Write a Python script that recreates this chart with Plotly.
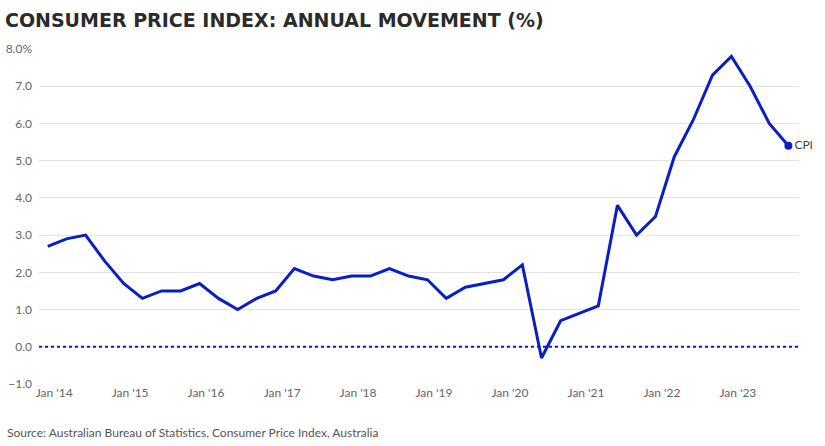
import plotly.graph_objects as go

dates = ["2013-12-01",
         "2014-03-01", "2014-06-01", "2014-09-01", "2014-12-01",
         "2015-03-01", "2015-06-01", "2015-09-01", "2015-12-01",
         "2016-03-01", "2016-06-01", "2016-09-01", "2016-12-01",
         "2017-03-01", "2017-06-01", "2017-09-01", "2017-12-01",
         "2018-03-01", "2018-06-01", "2018-09-01", "2018-12-01",
         "2019-03-01", "2019-06-01", "2019-09-01", "2019-12-01",
         "2020-03-01", "2020-06-01", "2020-09-01", "2020-12-01",
         "2021-03-01", "2021-06-01", "2021-09-01", "2021-12-01",
         "2022-03-01", "2022-06-01", "2022-09-01", "2022-12-01",
         "2023-03-01", "2023-06-01", "2023-09-01"]
cpi = [2.7,
       2.9, 3.0, 2.3, 1.7,
       1.3, 1.5, 1.5, 1.7,
       1.3, 1.0, 1.3, 1.5,
       2.1, 1.9, 1.8, 1.9,
       1.9, 2.1, 1.9, 1.8,
       1.3, 1.6, 1.7, 1.8,
       2.2, -0.3, 0.7, 0.9,
       1.1, 3.8, 3.0, 3.5,
       5.1, 6.1, 7.3, 7.8,
       7.0, 6.0, 5.4]

x_tickvals = ["2014-01-01", "2015-01-01", "2016-01-01", "2017-01-01", "2018-01-01",
              "2019-01-01", "2020-01-01", "2021-01-01", "2022-01-01", "2023-01-01"]
x_ticktext = ["Jan '14", "Jan '15", "Jan '16", "Jan '17", "Jan '18",
              "Jan '19", "Jan '20", "Jan '21", "Jan '22", "Jan '23"]
y_tickvals = [-1, 0, 1, 2, 3, 4, 5, 6, 7, 8]
y_ticktext = ["\u22121.0", "0.0", "1.0", "2.0", "3.0", "4.0", "5.0", "6.0", "7.0", "8.0%"]

BLUE = "#0a1ec4"
FONT = "Lato"

fig = go.Figure()
fig.add_trace(go.Scatter(x=dates, y=cpi, mode="lines",
                         line=dict(color=BLUE, width=3), hoverinfo="x+y",
                         showlegend=False))
fig.add_trace(go.Scatter(x=[dates[-1]], y=[cpi[-1]], mode="markers+text",
                         marker=dict(color=BLUE, size=8), text=["CPI"],
                         textposition="middle right",
                         textfont=dict(family=FONT, size=12, color="#444"),
                         showlegend=False, cliponaxis=False))

fig.add_shape(type="line", xref="paper", yref="y", x0=0, x1=1, y0=0, y1=0,
              line=dict(color=BLUE, width=2, dash="dot"))

fig.update_layout(
    width=825, height=446,
    margin=dict(l=39, r=26, t=49, b=62, autoexpand=False),
    paper_bgcolor="white", plot_bgcolor="white",
    title=dict(text="CONSUMER PRICE INDEX: ANNUAL MOVEMENT (%)",
               x=0.006, xanchor="left", y=0.955, yanchor="middle",
               automargin=False,
               font=dict(family="DejaVu Sans", size=19, weight="bold", color="#2b2b2b")),
    annotations=[dict(text="Source: Australian Bureau of Statistics, Consumer Price Index, Australia",
                      xref="paper", yref="paper", x=-0.045, y=-0.145,
                      xanchor="left", yanchor="middle", showarrow=False,
                      font=dict(family=FONT, size=12, color="#555"))],
)
fig.update_xaxes(type="date", range=["2013-10-20", "2023-10-22"],
                 tickvals=x_tickvals, ticktext=x_ticktext, automargin=False,
                 showgrid=False, showline=False, zeroline=False, ticks="",
                 tickfont=dict(family=FONT, size=12, color="#666"))
fig.update_yaxes(range=[-1, 8], tickvals=y_tickvals, ticktext=y_ticktext,
                 automargin=False,
                 showgrid=True, gridcolor="#e3e3e3", gridwidth=1,
                 zeroline=False, showline=False, ticks="",
                 ticklabelstandoff=6,
                 tickfont=dict(family=FONT, size=12, color="#666"))

fig.write_html("out.html", config={"displayModeBar": False},
               post_script="document.body.style.margin='0';document.body.style.padding='0';")
